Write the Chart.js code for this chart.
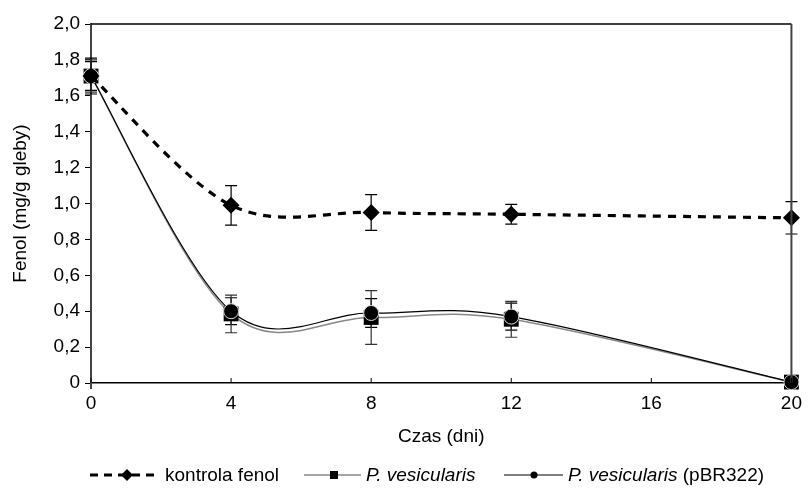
<!DOCTYPE html>
<html lang="pl">
<head>
<meta charset="UTF-8">
<title>Fenol</title>
<script src="https://cdn.jsdelivr.net/npm/chart.js"></script>
<style>
  body { margin: 0; background: #fff; }
  #wrap { position: relative; width: 811px; height: 489px; }
  #legend { position: absolute; left: 0; top: 464px; width: 811px; height: 22px;
            font: 19px "Liberation Sans", Arial, sans-serif; color: #000; }
  .item { position: absolute; top: 0; height: 22px; display: flex; align-items: center; white-space: nowrap; }
  .item svg { margin-right: 5px; }
</style>
</head>
<body>
<div id="wrap">
  <canvas id="chart" width="811" height="489"></canvas>
  <div id="legend">
    <div class="item" style="left:90px">
      <svg width="70" height="14"><line x1="0" y1="7" x2="70" y2="7" stroke="#000" stroke-width="3" stroke-dasharray="8,6"/>
        <polygon points="37,1 43,7 37,13 31,7" fill="#000"/></svg>kontrola fenol
    </div>
    <div class="item" style="left:304px">
      <svg width="57" height="14"><line x1="0" y1="7" x2="57" y2="7" stroke="#888" stroke-width="1.5"/>
        <rect x="26" y="3" width="8" height="8" fill="#000"/></svg><i>P. vesicularis</i>
    </div>
    <div class="item" style="left:504px">
      <svg width="59" height="14"><line x1="0" y1="7" x2="59" y2="7" stroke="#000" stroke-width="1.2"/>
        <circle cx="30" cy="7" r="3.5" fill="#000"/></svg><span><i>P. vesicularis</i> (pBR322)</span>
    </div>
  </div>
</div>
<script>
// dane
const days = [0, 4, 8, 12, 20];
const kontrola = [1.71, 0.99, 0.95, 0.94, 0.92];
const kontrolaErr = [0.08, 0.11, 0.10, 0.055, 0.09];
const pVes = [1.71, 0.385, 0.365, 0.355, 0.005];
const pVesErr = [0.09, 0.105, 0.15, 0.10, 0.012];
const pBR = [1.71, 0.40, 0.39, 0.37, 0.005];
const pBRErr = [0.10, 0.075, 0.08, 0.075, 0.012];
const xTicks = [0, 4, 8, 12, 16, 20];
const yTickLabels = ['0', '0,2', '0,4', '0,6', '0,8', '1,0', '1,2', '1,4', '1,6', '1,8', '2,0'];

const FONT = { family: '"Liberation Sans", Arial, sans-serif', size: 19 };

function pts(ys) {
  return days.map((d, i) => ({ x: d, y: ys[i] }));
}

// wygładzanie linii jak w Excelu (punkty kontrolne = 1/6 cięciwy sąsiadów)
const excelSmooth = {
  id: 'excelSmooth',
  beforeDatasetDraw(chart, args) {
    const meta = args.meta;
    const line = meta.dataset;
    line.updateControlPoints(chart.chartArea, meta.indexAxis);
    const p = meta.data;
    const n = p.length;
    for (let i = 0; i < n; i++) {
      const prev = p[Math.max(i - 1, 0)];
      const next = p[Math.min(i + 1, n - 1)];
      const dx = (next.x - prev.x) / 6, dy = (next.y - prev.y) / 6;
      p[i].cp1x = p[i].x - dx; p[i].cp1y = p[i].y - dy;
      p[i].cp2x = p[i].x + dx; p[i].cp2y = p[i].y + dy;
    }
    line._pointsUpdated = true;
    line._path = undefined;
  }
};

// słupki błędów + ramka obszaru wykresu
const errorBars = {
  id: 'errorBars',
  beforeDatasetsDraw(chart) {
    const ctx = chart.ctx, xs = chart.scales.x, ys = chart.scales.y;
    ctx.save();
    chart.data.datasets.forEach(ds => {
      ctx.strokeStyle = ds.errColor;
      ctx.lineWidth = 1.2;
      ds.data.forEach((p, i) => {
        const e = ds.errors[i];
        const px = xs.getPixelForValue(p.x);
        const top = ys.getPixelForValue(p.y + e);
        const bot = ys.getPixelForValue(p.y - e);
        ctx.beginPath();
        ctx.moveTo(px, top); ctx.lineTo(px, bot);
        ctx.moveTo(px - 6, top); ctx.lineTo(px + 6, top);
        ctx.moveTo(px - 6, bot); ctx.lineTo(px + 6, bot);
        ctx.stroke();
      });
    });
    ctx.restore();
  },
  afterDraw(chart) {
    const ctx = chart.ctx, a = chart.chartArea, xs = chart.scales.x;
    ctx.save();
    ctx.strokeStyle = '#000';
    ctx.lineWidth = 1.5;
    ctx.beginPath();
    ctx.moveTo(a.left, a.top); ctx.lineTo(a.right, a.top);
    ctx.stroke();
    ctx.strokeStyle = '#444';
    ctx.lineWidth = 2;
    ctx.beginPath();
    ctx.moveTo(a.right, a.top); ctx.lineTo(a.right, a.bottom);
    ctx.moveTo(a.left, a.bottom); ctx.lineTo(a.left, a.bottom + 6);
    ctx.stroke();
    ctx.strokeStyle = '#000';
    ctx.lineWidth = 1;
    xTicks.forEach(t => {
      const px = xs.getPixelForValue(t);
      ctx.beginPath();
      ctx.moveTo(px, a.bottom); ctx.lineTo(px, a.bottom - 5);
      ctx.stroke();
    });
    ctx.restore();
  }
};

new Chart(document.getElementById('chart'), {
  type: 'line',
  data: {
    datasets: [
      {
        label: 'kontrola fenol', data: pts(kontrola), errors: kontrolaErr, errColor: '#000',
        borderColor: '#000', borderWidth: 3.2, borderDash: [8, 7], tension: 0.4, clip: false,
        pointStyle: 'rectRot', pointRadius: 8.5, pointBackgroundColor: '#000', pointBorderColor: '#000',
        pointBorderWidth: 0, order: 1
      },
      {
        label: 'P. vesicularis (pBR322)', data: pts(pBR), errors: pBRErr, errColor: '#000',
        borderColor: '#000', borderWidth: 1.2, tension: 0.4, clip: false,
        pointStyle: 'circle', pointRadius: 7.5, pointBackgroundColor: '#000', pointBorderColor: '#ddd',
        pointBorderWidth: 1, order: 2
      },
      {
        label: 'P. vesicularis', data: pts(pVes), errors: pVesErr, errColor: '#333',
        borderColor: '#888', borderWidth: 1.5, tension: 0.4, clip: false,
        pointStyle: 'rect', pointRadius: 10.5, pointBackgroundColor: '#000', pointBorderColor: '#000',
        pointBorderWidth: 0, order: 3
      }
    ]
  },
  options: {
    responsive: false,
    animation: false,
    layout: { padding: { top: 24, right: 12, left: 0, bottom: 40 } },
    plugins: { legend: { display: false }, tooltip: { enabled: false } },
    scales: {
      x: {
        type: 'linear', min: 0, max: 20,
        afterBuildTicks(scale) { scale.ticks = xTicks.map(v => ({ value: v })); },
        afterFit(scale) { scale.height = 66; },
        grid: { display: true, drawOnChartArea: false, drawTicks: false },
        border: { display: true, color: '#000', width: 1.5 },
        ticks: { color: '#000', font: FONT, padding: 9, maxRotation: 0 },
        title: { display: true, text: 'Czas (dni)', color: '#000', font: FONT, padding: { top: 2, bottom: 1 } }
      },
      y: {
        min: 0, max: 2,
        afterFit(scale) { scale.width = 91; },
        grid: { display: true, drawOnChartArea: false, drawTicks: true, tickLength: 6, color: '#000' },
        border: { display: true, color: '#444', width: 2 },
        ticks: {
          stepSize: 0.2, color: '#000', font: FONT, padding: 5,
          callback: (v, i) => yTickLabels[i]
        },
        title: { display: true, text: 'Fenol (mg/g gleby)', color: '#000', font: FONT, padding: { top: 9, bottom: 4 } }
      }
    }
  },
  plugins: [excelSmooth, errorBars]
});
</script>
</body>
</html>
